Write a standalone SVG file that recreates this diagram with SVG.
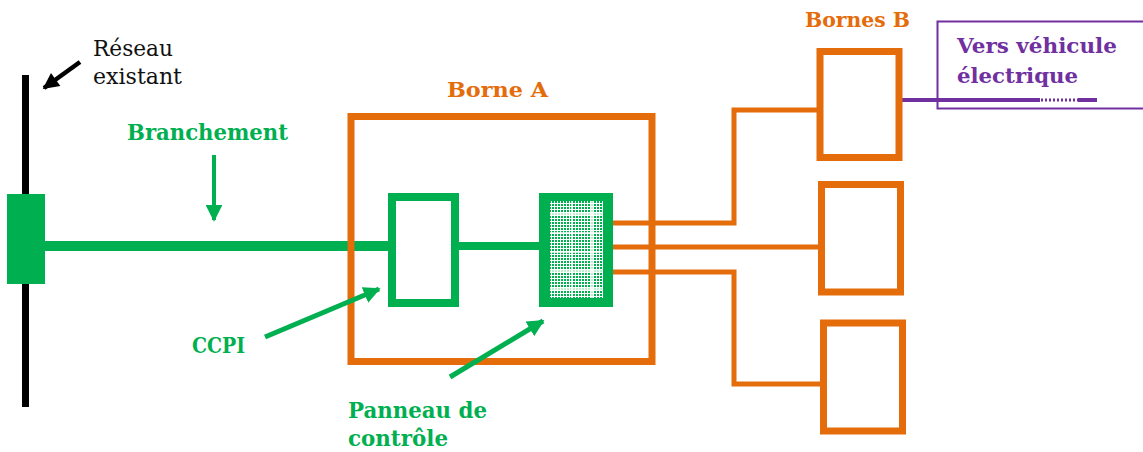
<svg xmlns="http://www.w3.org/2000/svg" width="1143" height="452" viewBox="0 0 1143 452">
<style>
.lbl{font-family:"DejaVu Serif","Liberation Serif",serif;font-weight:bold;}
.reg{font-family:"DejaVu Serif","Liberation Serif",serif;font-weight:normal;fill:#111;}
.g{fill:#00B050;}
.o{fill:#E46C0A;}
.p{fill:#7030A0;}
.obox{fill:none;stroke:#E46C0A;stroke-width:7;}
.gbox{fill:none;stroke:#00B050;stroke-width:8;}
.ow{fill:none;stroke:#E46C0A;stroke-width:5;}
</style>
<defs>
<pattern id="chk" x="0" y="0" width="3" height="3" patternUnits="userSpaceOnUse">
<rect width="3" height="3" fill="#ffffff"/>
<rect x="0" y="0" width="2" height="2" fill="#00B050"/>
</pattern>
<marker id="ahK" viewBox="0 0 10 10" refX="9" refY="5" markerWidth="18" markerHeight="16" markerUnits="userSpaceOnUse" orient="auto">
<path d="M0,0 L10,5 L0,10 z" fill="#000"/>
</marker>
<marker id="ahG" viewBox="0 0 10 10" refX="9" refY="5" markerWidth="17" markerHeight="17" markerUnits="userSpaceOnUse" orient="auto">
<path d="M0,0 L10,5 L0,10 z" fill="#00B050"/>
</marker>
</defs>
<rect width="1143" height="452" fill="#ffffff"/>

<g id="connectors">
<line x1="45" y1="246" x2="392" y2="246" stroke="#00B050" stroke-width="10"/>
<line x1="455" y1="246" x2="541" y2="246" stroke="#00B050" stroke-width="8"/>
<polyline class="ow" points="611,223 734,223 734,110 819,110"/>
<polyline class="ow" points="611,247 820,247"/>
<polyline class="ow" points="611,272 734,272 734,384 822,384"/>
<line x1="902" y1="100" x2="1040" y2="100" stroke="#7030A0" stroke-width="4"/>
<line x1="1041" y1="100" x2="1078" y2="100" stroke="#7030A0" stroke-width="3" stroke-dasharray="2,2"/>
<line x1="1078" y1="100" x2="1097" y2="100" stroke="#7030A0" stroke-width="4"/>
</g>

<g id="reseau">
<rect x="22" y="75" width="7" height="332" fill="#000"/>
<line x1="80" y1="62" x2="44" y2="88" stroke="#000" stroke-width="4.5" marker-end="url(#ahK)"/>
<text class="reg" x="93" y="56" font-size="22" textLength="80" lengthAdjust="spacingAndGlyphs">Réseau</text>
<text class="reg" x="93" y="84" font-size="22" textLength="89" lengthAdjust="spacingAndGlyphs">existant</text>
</g>

<g id="branchement">
<rect x="7" y="194" width="38" height="90" fill="#00B050"/>
<text class="lbl g" x="127" y="140" font-size="22" textLength="161" lengthAdjust="spacingAndGlyphs">Branchement</text>
<line x1="214" y1="155" x2="214" y2="220" stroke="#00B050" stroke-width="4" marker-end="url(#ahG)"/>
</g>

<g id="borne-a">
<rect class="obox" x="351" y="116.5" width="301" height="245"/>
<text class="lbl o" x="447" y="97" font-size="21" textLength="101" lengthAdjust="spacingAndGlyphs">Borne A</text>
</g>

<g id="ccpi">
<rect class="gbox" x="392" y="197" width="63" height="106"/>
<text class="lbl g" x="192" y="353" font-size="22" textLength="53" lengthAdjust="spacingAndGlyphs">CCPI</text>
<line x1="265" y1="337" x2="379" y2="289" stroke="#00B050" stroke-width="5" marker-end="url(#ahG)"/>
</g>

<g id="panneau">
<rect x="539" y="193" width="74" height="114" fill="#00B050"/>
<rect x="550" y="201" width="53" height="97" fill="url(#chk)"/>
<g stroke="#ffffff" stroke-width="1.5">
<line x1="572" y1="201" x2="572" y2="298"/>
<line x1="592" y1="201" x2="592" y2="298"/>
<line x1="550" y1="214" x2="603" y2="214"/>
<line x1="550" y1="233" x2="603" y2="233"/>
<line x1="550" y1="252" x2="603" y2="252"/>
<line x1="550" y1="271" x2="603" y2="271"/>
<line x1="550" y1="289" x2="603" y2="289"/>
</g>
<text class="lbl g" x="348" y="418" font-size="22" textLength="139" lengthAdjust="spacingAndGlyphs">Panneau de</text>
<text class="lbl g" x="348" y="446" font-size="22" textLength="100" lengthAdjust="spacingAndGlyphs">contrôle</text>
<line x1="450" y1="377" x2="543" y2="321" stroke="#00B050" stroke-width="5" marker-end="url(#ahG)"/>
</g>

<g id="bornes-b">
<text class="lbl o" x="805" y="27" font-size="20" textLength="105" lengthAdjust="spacingAndGlyphs">Bornes B</text>
<g id="borne-b1"><rect class="obox" x="820" y="51.5" width="79" height="106"/></g>
<g id="borne-b2"><rect class="obox" x="821.5" y="184.5" width="79" height="107.5"/></g>
<g id="borne-b3"><rect class="obox" x="823.5" y="323" width="79" height="108"/></g>
</g>

<g id="vehicule">
<rect x="937.5" y="21.5" width="215" height="87" fill="none" stroke="#7030A0" stroke-width="2"/>
<text class="lbl p" x="957" y="53" font-size="21" textLength="160" lengthAdjust="spacingAndGlyphs">Vers véhicule</text>
<text class="lbl p" x="957" y="83" font-size="21" textLength="121" lengthAdjust="spacingAndGlyphs">électrique</text>
</g>
</svg>
